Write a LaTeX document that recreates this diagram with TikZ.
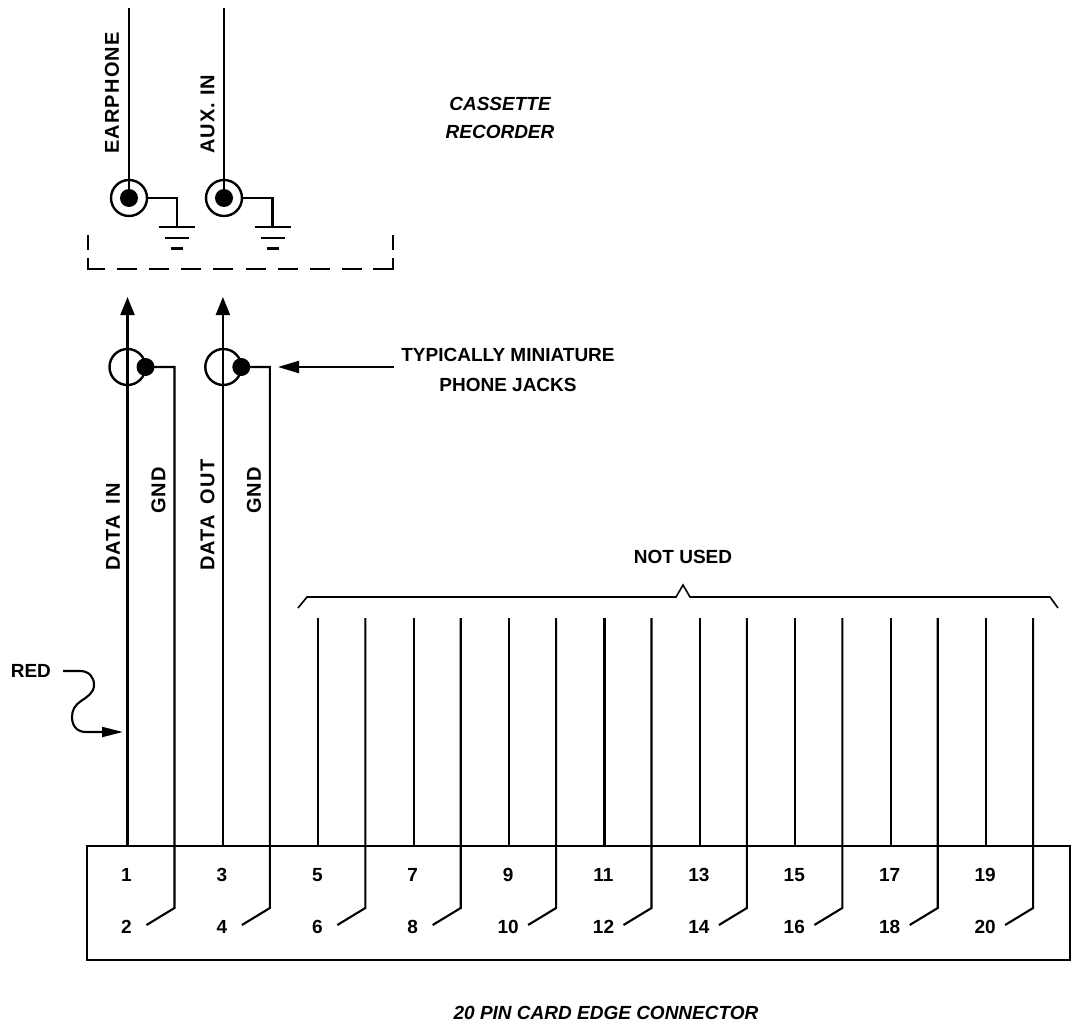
\documentclass[tikz,border=0pt]{standalone}
\usepackage{fontspec}
\setmainfont{Liberation Sans}
\usetikzlibrary{arrows.meta}
\begin{document}
\begin{tikzpicture}[x=1pt,y=-1pt, line width=2.1pt,
 lbl/.style={font=\bfseries\fontsize{19}{22}\selectfont, inner sep=0pt},
 ttl/.style={font=\bfseries\itshape\fontsize{19}{28}\selectfont, inner sep=0pt, align=center},
 vlbl/.style={font=\bfseries\fontsize{20}{22}\selectfont\addfontfeature{LetterSpace=6}, inner sep=0pt, rotate=90, anchor=west},
 jack/.style={circle, draw, line width=2.4pt, minimum size=36pt, inner sep=0pt},
 jdot/.style={circle, fill, minimum size=18pt, inner sep=0pt},
 uparrow/.style={-{Triangle[width=14pt,length=18pt]}},
]
\useasboundingbox (0,0) rectangle (1073,1035);

% ---------- connector body ----------
\draw (86.7,846) rectangle (1070,960);
\node[ttl] (title) at (606,1013) {20 PIN CARD EDGE CONNECTOR};

% ---------- pins ----------
\foreach \i in {0,...,9} {
  \pgfmathsetmacro{\xo}{127.5+95.4*\i}
  \pgfmathsetmacro{\xe}{\xo+47}
  \pgfmathtruncatemacro{\no}{2*\i+1}
  \pgfmathtruncatemacro{\ne}{2*\i+2}
  \node[lbl] (n\no) at (\xo-1,875) {\no};
  \node[lbl] (n\ne) at (\xo-1,927) {\ne};
  \coordinate (pt\no) at (\xo,846);
  \coordinate (pb\ne) at (\xe,908);
  \coordinate (pd\ne) at (\xe-28,925);
  \ifnum\i>1
    \coordinate (s\no) at (\xo,618);
    \coordinate (s\ne) at (\xe,618);
    \draw (s\no) -- (pt\no);
    \draw (s\ne) -- (pb\ne) -- (pd\ne);
  \fi
}

% ---------- NOT USED bracket ----------
\node[lbl] (notused) at (683,557) {NOT USED};
\draw[line width=1.6pt] (298,608) -- (307,597) -- (676,597) -- (683,585) -- (690,597) -- (1050,597) -- (1058,608);

% ---------- phone jacks (computer side) ----------
\node[jack] (j1) at (127.5,367) {};
\node[jack] (j2) at (223.3,367) {};
\coordinate (a1) at (127.5,297);
\coordinate (a3) at (222.9,297);
\draw[uparrow] (pt1) -- (a1);
\draw[uparrow] (pt3) -- (a3);
\coordinate (g2) at (174.5,367);
\coordinate (g4) at (269.9,367);
\node[jdot] (jd1) at (145.5,367) {};
\node[jdot] (jd2) at (241.3,367) {};
\draw (jd1.center) -- (g2) -- (pb2) -- (pd2);
\draw (jd2.center) -- (g4) -- (pb4) -- (pd4);

\node[vlbl] (ldin) at (113,572) {DATA\hspace{4pt} IN};
\node[vlbl] (lg1) at (158.5,515) {GND};
\node[vlbl] (ldout) at (207.5,572) {DATA\hspace{4pt} OUT};
\node[vlbl] (lg2) at (254,515) {GND};

\node[lbl, align=center, font=\bfseries\fontsize{19}{29.5}\selectfont] (typ) at (508,370) {TYPICALLY MINIATURE\\PHONE JACKS};
\coordinate (typtip) at (278,367);
\draw[-{Triangle[width=12pt,length=21pt]}] (394,367) -- (typtip);

% ---------- RED marker ----------
\node[lbl, anchor=east] (red) at (52,671) {RED};
\coordinate (redtip) at (123,732);
\draw[-{Triangle[width=10pt,length=21pt]}] (63,671) -- (80,671)
  .. controls (89,671) and (94,677) .. (94,685)
  .. controls (94,693) and (87,697) .. (81,701)
  .. controls (75,705) and (72,710) .. (72,717)
  .. controls (72,726) and (77,732) .. (86,732) -- (redtip);

% ---------- cassette recorder ----------
\node[ttl] (cass) at (500,118) {CASSETTE\\RECORDER};
\node[jack] (e1) at (129,198) {};
\node[jdot] (ed1) at (129,198) {};
\node[jack] (e2) at (224,198) {};
\node[jdot] (ed2) at (224,198) {};
\coordinate (et1) at (129,8);
\coordinate (et2) at (224,8);
\draw (et1) -- (ed1.center);
\draw (et2) -- (ed2.center);
\node[vlbl] (lear) at (112,155) {EARPHONE};
\node[vlbl] (laux) at (207.5,155) {AUX. IN};

\coordinate (gnd1) at (176.7,227);
\coordinate (gnd2) at (272.5,227);
\draw (e1.east) -- (gnd1 |- e1.east) -- (gnd1);
\draw (e2.east) -- (gnd2 |- e2.east) -- (gnd2);
\foreach \g in {gnd1,gnd2} {
  \draw (\g) ++(-18,0) -- ++(36,0);
  \draw (\g) ++(-12,11) -- ++(24,0);
  \draw (\g) ++(-6,21.5) -- ++(12,0);
}

% dashed enclosure
\draw (88,235) -- (88,250);
\draw (88,258) -- (88,269) -- (105,269);
\draw[dash pattern=on 20pt off 12.2pt] (116.7,269) -- (362.2,269);
\draw (373.3,269) -- (393,269) -- (393,258);
\draw (393,250) -- (393,235);
\end{tikzpicture}
\end{document}
